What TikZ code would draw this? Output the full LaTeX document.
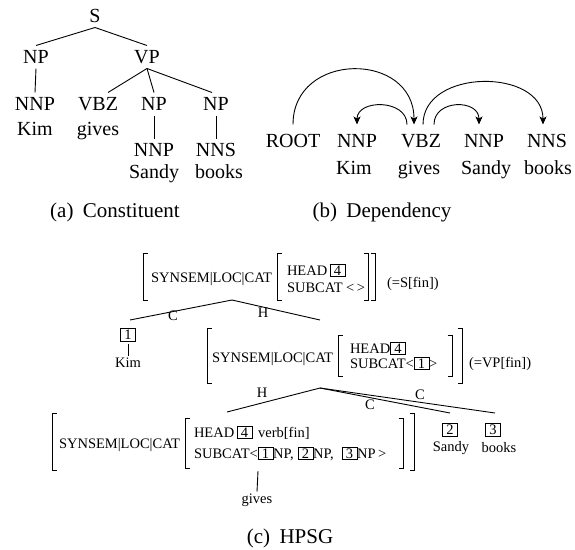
\documentclass[tikz,border=0pt]{standalone}
\usepackage{fontspec}
\setmainfont{Liberation Serif}
\usetikzlibrary{arrows.meta}
\newcommand\tg[1]{{\setlength\fboxsep{1.3pt}\setlength\fboxrule{0.6pt}\fbox{\kern2.2pt#1\kern2.2pt}}}
\newcommand\lbrk[3]{\draw[brk] (#1+4.5,#2) -- (#1,#2) -- (#1,#3) -- (#1+4.5,#3);}
\newcommand\rbrk[3]{\draw[brk] (#1-4.5,#2) -- (#1,#2) -- (#1,#3) -- (#1-4.5,#3);}
\begin{document}
\begin{tikzpicture}[x=1pt,y=-1pt,line width=0.9pt,
  tree/.style={inner sep=0pt,outer sep=5pt,text height=13pt,text depth=0pt,font=\fontsize{20}{24}\selectfont},
  depn/.style={tree,outer sep=10pt},
  capt/.style={inner sep=0pt,font=\fontsize{21}{25}\selectfont},
  hp/.style={inner sep=0pt,outer sep=2pt,font=\fontsize{14.5}{17}\selectfont},
  hpw/.style={hp,anchor=base west},
  brk/.style={line width=0.8pt},
  arc/.style={-{Stealth[length=8pt,width=7pt,inset=2pt]},line width=0.9pt},
]
\useasboundingbox (0,0) rectangle (575,549);

% ---------- (a) constituent tree
\node[tree] (S) at (95,16) {S};
\node[tree] (NPa) at (36,57) {NP};
\node[tree] (VP) at (147,57) {VP};
\node[tree] (NNPa) at (35,104) {NNP};
\node[tree] (VBZa) at (98,104) {VBZ};
\node[tree] (NPb) at (154,104) {NP};
\node[tree] (NPc) at (216,104) {NP};
\node[tree] (Kima) at (35,129) {Kim};
\node[tree] (givesa) at (98,129) {gives};
\node[tree] (NNPb) at (154,150) {NNP};
\node[tree] (NNS) at (216,150) {NNS};
\node[tree] (Sandya) at (154,172) {Sandy};
\node[tree] (booksa) at (219,172) {books};
\draw (S.south) -- (NPa.north);
\draw (S.south) -- (VP.north);
\draw (NPa.south) -- (NNPa.north);
\draw (VP.south) -- ([xshift=10pt]VBZa.north);
\draw (VP.south) -- (NPb.north);
\draw (VP.south) -- ([xshift=-4pt]NPc.north);
\draw (NPb.south) -- (NNPb.north);
\draw (NPc.south) -- (NNS.north);

% ---------- (b) dependency
\node[depn] (ROOT) at (293,141) {ROOT};
\node[depn] (NNPd1) at (357,141) {NNP};
\node[depn] (VBZd) at (421,141) {VBZ};
\node[depn] (NNPd2) at (484,141) {NNP};
\node[depn] (NNSd) at (547,141) {NNS};
\node[tree] (Kimd) at (354,168) {Kim};
\node[tree] (givesd) at (419,168) {gives};
\node[tree] (Sandyd) at (486,168) {Sandy};
\node[tree] (booksd) at (548,168) {books};
\draw[arc] (ROOT.north) .. controls (293,51) and (414,51) .. ([xshift=-7pt]VBZd.north);
\draw[arc] ([xshift=-14pt]VBZd.north) .. controls (407,99) and (357,99) .. (NNPd1.north);
\draw[arc] ([xshift=2pt]VBZd.north) .. controls (423,68) and (543,68) .. ([xshift=-4pt]NNSd.north);
\draw[arc] ([xshift=13pt]VBZd.north) .. controls (434,99) and (479,99) .. ([xshift=-5pt]NNPd2.north);

% ---------- captions
\node[capt] (capa) at (115,212) {(a)\hspace{0.45em}Constituent};
\node[capt] (capb) at (382,212) {(b)\hspace{0.45em}Dependency};
\node[capt] (capc) at (290,538) {(c)\hspace{0.45em}HPSG};

% ---------- (c) HPSG top AVM
\node[hpw] (syn1) at (149,282) {SYNSEM|LOC|CAT};
\node[hpw] (head1) at (285,275) {HEAD\,\tg{4}};
\node[hpw] (sub1) at (285,292) {SUBCAT <\,>};
\node[hpw] (s1lab) at (385,287) {(=S[fin])};
\lbrk{143}{253}{300}
\lbrk{277}{253}{300}
\rbrk{368}{253}{300}
\rbrk{375}{253}{300}
\coordinate (apex1) at (232,300);
\coordinate (c1end) at (130,320);
\coordinate (h1end) at (320,320);
\draw (apex1) -- (c1end);
\draw (apex1) -- (h1end);
\node[hp] (lc1) at (173,316) {C};
\node[hp] (lh1) at (263,313) {H};

% Kim
\node[hp] (k1) at (128,335) {\tg{1}};
\node[hp] (kim1) at (128,363) {Kim};
\draw (k1.south) -- (kim1.north);

% middle AVM
\node[hpw] (syn2) at (210,362) {SYNSEM|LOC|CAT};
\node[hpw] (head2) at (348,353) {HEAD\tg{4}};
\node[hpw] (sub2) at (348,368) {SUBCAT<\tg{1}>};
\node[hpw] (s2lab) at (467,367) {(=VP[fin])};
\lbrk{207}{328}{383}
\lbrk{338}{335}{376}
\rbrk{452}{335}{376}
\rbrk{462}{328}{383}
\coordinate (apex2) at (320,388);
\coordinate (h2end) at (227,412);
\coordinate (c2end) at (450,413);
\coordinate (c3end) at (495,413);
\draw (apex2) -- (h2end);
\draw (apex2) -- (c2end);
\draw (apex2) -- (c3end);
\node[hp] (lh2) at (262,393) {H};
\node[hp] (lc2) at (370,405) {C};
\node[hp] (lc3) at (420,395) {C};

% Sandy, books
\node[hp] (k2) at (450,430) {\tg{2}};
\node[hp] (sandy3) at (451,448) {Sandy};
\node[hp] (k3) at (493,430) {\tg{3}};
\node[hp] (books3) at (499,448) {books};

% bottom AVM
\node[hpw] (syn3) at (57,448) {SYNSEM|LOC|CAT};
\node[hpw] (head3) at (192,437) {HEAD\,\tg{4}\hspace{6pt}verb[fin]};
\node[hpw] (sub3) at (192,458) {SUBCAT<\tg{1}NP,\hspace{4pt}\tg{2}NP,\hspace{8pt}\tg{3}NP\,>};
\lbrk{52}{413}{470}
\lbrk{185}{418}{468}
\rbrk{403}{418}{468}
\rbrk{414}{413}{470}
\coordinate (gtop) at (258,471);
\node[hp] (gives3) at (257,500) {gives};
\draw (gtop) -- (gives3.north);
\end{tikzpicture}
\end{document}
